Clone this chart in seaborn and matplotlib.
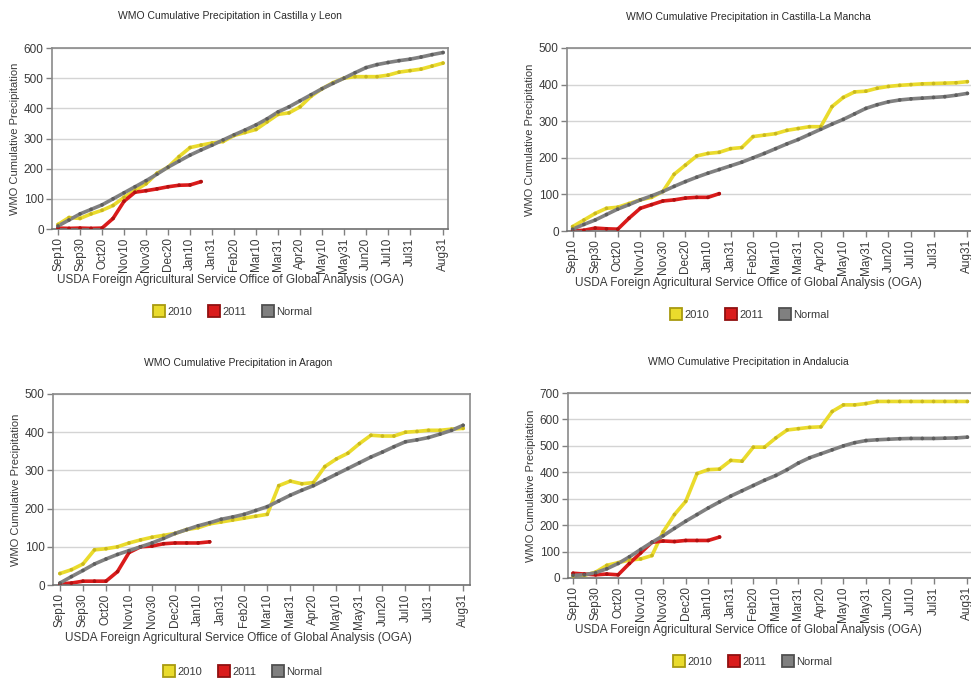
import matplotlib
matplotlib.use("Agg")
import matplotlib.pyplot as plt
from matplotlib.lines import Line2D
import numpy as np
import pandas as pd
import seaborn as sns

# Dekad labels of the crop year (Sep 10 .. Aug 31)
dekads = ["Sep10", "Sep20", "Sep30", "Oct10", "Oct20", "Oct31",
          "Nov10", "Nov20", "Nov30", "Dec10", "Dec20", "Dec31",
          "Jan10", "Jan20", "Jan31", "Feb10", "Feb20", "Feb28",
          "Mar10", "Mar20", "Mar31", "Apr10", "Apr20", "Apr30",
          "May10", "May20", "May31", "Jun10", "Jun20", "Jun30",
          "Jul10", "Jul20", "Jul31", "Aug10", "Aug20", "Aug31"]
tick_labels = ["Sep10", "Sep30", "Oct20", "Nov10", "Nov30", "Dec20", "Jan10",
               "Jan31", "Feb20", "Mar10", "Mar31", "Apr20", "May10", "May31",
               "Jun20", "Jul10", "Jul31", "Aug31"]
series_names = ["2010", "2011", "Normal"]

# Castilla y Leon (mm)
cyl_2010 = [15, 38, 35, 50, 62, 78, 105, 128, 150, 185, 205, 240, 270, 278, 285, 290,
            310, 320, 330, 355, 380, 385, 405, 440, 465, 485, 500, 505, 505, 505,
            510, 520, 525, 530, 540, 550]
cyl_2011 = [3, 2, 3, 2, 3, 35, 92, 122, 127, 133, 140, 145, 146, 157]
cyl_normal = [10, 30, 50, 65, 80, 100, 120, 140, 160, 182, 205, 225, 245, 262, 278, 295,
              312, 328, 345, 365, 388, 405, 425, 445, 465, 483, 500, 518, 535, 545,
              552, 558, 563, 570, 578, 585]

# Castilla-La Mancha (mm)
clm_2010 = [12, 30, 48, 62, 65, 75, 85, 92, 108, 155, 180, 205, 212, 215, 225, 228,
            258, 262, 266, 275, 280, 285, 285, 340, 365, 380, 382, 390, 395, 398,
            400, 402, 403, 404, 405, 408]
clm_2011 = [0, 2, 8, 6, 5, 35, 62, 72, 82, 85, 90, 92, 92, 102]
clm_normal = [5, 18, 30, 45, 60, 72, 85, 96, 108, 122, 135, 147, 158, 168, 178, 188,
              200, 212, 225, 238, 250, 264, 278, 292, 305, 320, 335, 345, 353, 358,
              361, 363, 365, 367, 371, 376]

# Aragon (mm)
ara_2010 = [30, 40, 55, 92, 95, 100, 110, 118, 125, 130, 135, 145, 150, 160, 165, 170,
            175, 180, 185, 260, 272, 265, 268, 310, 330, 345, 370, 392, 390, 390,
            400, 402, 405, 405, 408, 410]
ara_2011 = [3, 5, 10, 10, 10, 35, 85, 100, 102, 108, 110, 110, 110, 113]
ara_normal = [5, 22, 38, 55, 68, 80, 90, 100, 110, 122, 135, 145, 155, 163, 172, 178,
              185, 195, 205, 220, 235, 248, 260, 275, 290, 305, 320, 335, 348, 362,
              375, 380, 386, 395, 405, 418]

# Andalucia (mm)
and_2010 = [8, 10, 22, 48, 58, 68, 72, 85, 175, 240, 290, 395, 410, 412, 445, 442,
            495, 495, 530, 560, 565, 570, 572, 630, 655, 655, 660, 668, 668, 668,
            668, 668, 668, 668, 668, 668]
and_2011 = [18, 15, 12, 15, 12, 55, 95, 135, 140, 138, 142, 142, 142, 155]
and_normal = [10, 12, 20, 35, 55, 80, 108, 135, 160, 188, 215, 240, 265, 288, 310, 330,
              350, 370, 388, 410, 435, 455, 470, 485, 500, 512, 520, 523, 525, 527,
              528, 528, 528, 529, 530, 533]

line_colors = {"2010": "#EADB2C", "2011": "#DA1B1B", "Normal": "#808080"}
dot_colors = {"2010": "#C9B81E", "2011": "#B01010", "Normal": "#5E5E5E"}
edge_colors = {"2010": "#A89A10", "2011": "#901010", "Normal": "#505050"}

sns.set_theme(style="white")
plt.rcParams["font.family"] = ["Liberation Sans", "DejaVu Sans"]
text_color = "#3A3A3A"

fig = plt.figure(figsize=(9.71, 6.78), dpi=100)
W, H = 971.0, 678.0


def add_axes(left, top, right, bottom):
    return fig.add_axes([left / W, 1 - bottom / H, (right - left) / W, (bottom - top) / H])


def draw(ax, title, region, s2010, s2011, normal, ymax, xlim, title_xy, xlabel_y, legend_xy):
    frames = []
    for name, vals in zip(series_names, (s2010, s2011, normal)):
        frames.append(pd.DataFrame({"dekad": np.arange(len(vals)), "mm": vals,
                                    "series": name}))
    df = pd.concat(frames, ignore_index=True)

    ax.yaxis.grid(True, color="#D4D4D4", linewidth=1.0)
    ax.set_axisbelow(True)
    sns.lineplot(data=df, x="dekad", y="mm", hue="series", hue_order=series_names,
                 palette=line_colors, linewidth=2.6, legend=False, ax=ax, sort=False)
    sns.scatterplot(data=df, x="dekad", y="mm", hue="series", hue_order=series_names,
                    palette=dot_colors, s=7, linewidth=0, legend=False, ax=ax, zorder=3)

    ax.set_xlim(*xlim)
    ax.set_ylim(0, ymax)
    ax.set_yticks(np.arange(0, ymax + 1, 100))
    ax.set_xticks([dekads.index(t) for t in tick_labels])
    ax.set_xticklabels(tick_labels, rotation=90)
    ax.tick_params(axis="both", labelsize=8.5, colors=text_color, length=4, width=1,
                   direction="out", pad=2)
    ax.tick_params(axis="x", bottom=True, color="#808080")
    ax.tick_params(axis="y", left=True, color="#808080")
    for s in ax.spines.values():
        s.set_color("#8A8A8A")
        s.set_linewidth(1.2)
    ax.spines["bottom"].set_color("#707070")
    ax.set_ylabel("WMO Cumulative Precipitation", fontsize=8, color=text_color, labelpad=3)
    ax.set_xlabel("")

    fig.text(title_xy[0] / W, 1 - title_xy[1] / H, f"WMO Cumulative Precipitation in {region}",
             ha="center", va="center", fontsize=7.5, color="#2A2A2A")
    fig.text(title_xy[0] / W, 1 - xlabel_y / H,
             "USDA Foreign Agricultural Service Office of Global Analysis (OGA)",
             ha="center", va="center", fontsize=8.5, color=text_color)

    handles = [Line2D([], [], marker="s", linestyle="none", markersize=8,
                      markerfacecolor=line_colors[n], markeredgecolor=edge_colors[n],
                      markeredgewidth=1.3) for n in series_names]
    fig.legend(handles, series_names, loc="center",
               bbox_to_anchor=(legend_xy[0] / W, 1 - legend_xy[1] / H),
               ncol=3, frameon=False, fontsize=8, handlelength=1.0, handletextpad=0.3,
               columnspacing=1.4, labelcolor=text_color)


ax1 = add_axes(52, 48, 448, 229)
draw(ax1, "", "Castilla y Leon", cyl_2010, cyl_2011, cyl_normal, 600, (-0.55, 35.45),
     (230, 16), 280, (233, 312))

ax2 = add_axes(567, 48, 973, 231)
draw(ax2, "", "Castilla-La Mancha", clm_2010, clm_2011, clm_normal, 500, (-0.5, 35.5),
     (748, 17), 283, (750, 315))

ax3 = add_axes(53, 394, 470, 585)
draw(ax3, "", "Aragon", ara_2010, ara_2011, ara_normal, 500, (-0.6, 35.6),
     (238, 363), 638, (243, 672))

ax4 = add_axes(568, 393, 973, 578)
draw(ax4, "", "Andalucia", and_2010, and_2011, and_normal, 700, (-0.45, 35.5),
     (748, 362), 630, (753, 662))

fig.savefig("out.png", dpi=100, facecolor="white")
